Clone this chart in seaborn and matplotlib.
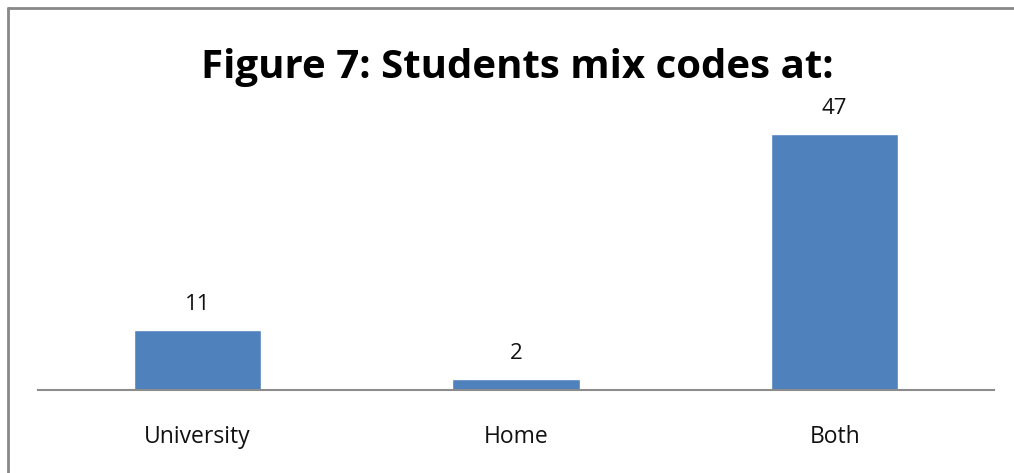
import matplotlib
matplotlib.use("Agg")
import matplotlib.pyplot as plt
from matplotlib.lines import Line2D
import seaborn as sns
import pandas as pd

categories = ["University", "Home", "Both"]
counts = [11, 2, 47]

sns.set_theme(style="white")
plt.rcParams["font.family"] = ["Open Sans", "DejaVu Sans"]

df = pd.DataFrame({"place": categories, "count": counts})

fig = plt.figure(figsize=(10.14, 4.73), dpi=100)
ax = fig.add_axes([38 / 1014, 83 / 473, 956 / 1014, 272 / 473])

sns.barplot(data=df, x="place", y="count", color="#4F81BD", width=0.4,
            saturation=1, ax=ax)

ax.set_ylim(0, 50)
ax.set_xlim(-0.5, 2.5)
ax.set_xlabel("")
ax.set_ylabel("")
ax.set_yticks([])
for side in ["top", "right", "left"]:
    ax.spines[side].set_visible(False)
ax.spines["bottom"].set_color("#8c8c8c")
ax.spines["bottom"].set_linewidth(1.5)
ax.tick_params(axis="x", length=0, pad=25, labelsize=16.5, labelcolor="#111111")

for container in ax.containers:
    ax.bar_label(container, labels=[str(v) for v in counts], padding=11,
                 fontsize=16, color="#111111")

fig.text(517 / 1014, 1 - 67 / 473, "Figure 7: Students mix codes at:",
         ha="center", va="center", fontsize=29, fontweight="bold",
         color="#000000")

# frame lines on the left and top edge
fig.add_artist(Line2D([8 / 1014, 8 / 1014], [0, 1 - 8 / 473],
                      transform=fig.transFigure, color="#888888", lw=2))
fig.add_artist(Line2D([8 / 1014, 1], [1 - 8 / 473, 1 - 8 / 473],
                      transform=fig.transFigure, color="#888888", lw=2))

fig.savefig("out.png", dpi=100)
